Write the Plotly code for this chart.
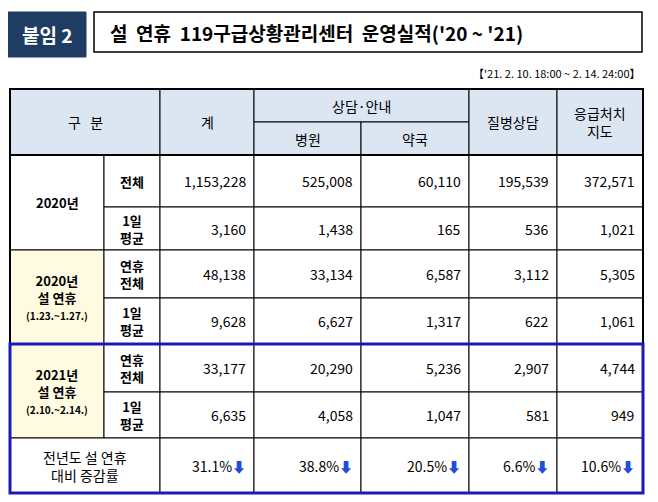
import plotly.graph_objects as go

# data
col_heads = ["계", "병원", "약국", "질병상담", "응급처치<br>지도"]
groups = ["2020년", "2020년<br>설 연휴<br><span style='font-size:10px'>(1.23.~1.27.)</span>",
          "2021년<br>설 연휴<br><span style='font-size:10px'>(2.10.~2.14.)</span>"]
sub_rows = ["전체", "1일<br>평균", "연휴<br>전체", "1일<br>평균", "연휴<br>전체", "1일<br>평균"]
values = [
    [1153228, 525008, 60110, 195539, 372571],
    [3160, 1438, 165, 536, 1021],
    [48138, 33134, 6587, 3112, 5305],
    [9628, 6627, 1317, 622, 1061],
    [33177, 20290, 5236, 2907, 4744],
    [6635, 4058, 1047, 581, 949],
]
change_pct = [31.1, 38.8, 20.5, 6.6, 10.6]

FONT = "Noto Sans CJK KR"
xs = [10, 104, 160, 254, 361, 469, 557, 643]   # column edges
ys = [89, 155, 207, 250, 298, 344, 392, 438, 493]  # row edges
hdr_mid = 122

fig = go.Figure()
shapes, ann = [], []

def rect(x0, y0, x1, y1, fill="white", lc="black", lw=1):
    shapes.append(dict(type="rect", x0=x0, x1=x1, y0=y0, y1=y1, fillcolor=fill,
                       line=dict(color=lc, width=lw), layer="below"))

def text(x, y, s, size=13, color="black", xanchor="center", bold=False):
    if bold:
        s = "<b>" + s + "</b>"
    ann.append(dict(x=x, y=y, text=s, showarrow=False, xanchor=xanchor, yanchor="middle",
                    font=dict(family=FONT, size=size, color=color)))

# title
rect(8, 12, 86, 57, fill="#1f3d63", lc="#1f3d63")
text(47, 34, "붙임 2", size=19, color="white", bold=True)
rect(94, 12, 642, 52, lw=1.5)
text(108, 32, "설  연휴  119구급상황관리센터  운영실적('20 ~ '21)", size=19, xanchor="left", bold=True)
text(643, 73, "【'21. 2. 10. 18:00 ~ 2. 14. 24:00】", size=11, xanchor="right")

# header
hdr = "#dce6f2"
rect(xs[0], ys[0], xs[2], ys[1], fill=hdr)
text((xs[0] + xs[2]) / 2, (ys[0] + ys[1]) / 2, "구   분", size=14)
rect(xs[2], ys[0], xs[3], ys[1], fill=hdr)
text((xs[2] + xs[3]) / 2, (ys[0] + ys[1]) / 2, col_heads[0], size=14)
rect(xs[3], ys[0], xs[5], hdr_mid, fill=hdr)
text((xs[3] + xs[5]) / 2, (ys[0] + hdr_mid) / 2, "상담·안내", size=14)
for i in (1, 2):
    rect(xs[2 + i], hdr_mid, xs[3 + i], ys[1], fill=hdr)
    text((xs[2 + i] + xs[3 + i]) / 2, (hdr_mid + ys[1]) / 2, col_heads[i], size=14)
for i in (3, 4):
    rect(xs[2 + i], ys[0], xs[3 + i], ys[1], fill=hdr)
    text((xs[2 + i] + xs[3 + i]) / 2, (ys[0] + ys[1]) / 2, col_heads[i], size=14)

# body
for g in range(3):
    y0, y1 = ys[1 + 2 * g], ys[3 + 2 * g]
    rect(xs[0], y0, xs[1], y1, fill="white" if g == 0 else "#fffbe0")
    text((xs[0] + xs[1]) / 2, (y0 + y1) / 2, groups[g], size=13, bold=True)
for r in range(6):
    y0, y1 = ys[1 + r], ys[2 + r]
    rect(xs[1], y0, xs[2], y1)
    text((xs[1] + xs[2]) / 2, (y0 + y1) / 2, sub_rows[r], size=13, bold=True)
    for c in range(5):
        rect(xs[2 + c], y0, xs[3 + c], y1)
        text(xs[3 + c] - 6, (y0 + y1) / 2, f"{values[r][c]:,}", size=14, xanchor="right")

# change row
y0, y1 = ys[7], ys[8]
rect(xs[0], y0, xs[2], y1)
text((xs[0] + xs[2]) / 2, (y0 + y1) / 2, "전년도 설 연휴<br>대비 증감률", size=14)
for c in range(5):
    rect(xs[2 + c], y0, xs[3 + c], y1)
    text(xs[3 + c] - 6, (y0 + y1) / 2,
         f"{change_pct[c]}%<span style='color:#1f4fd8'><b>⬇</b></span>", size=14, xanchor="right")

# outer borders
shapes.append(dict(type="rect", x0=xs[0], x1=xs[-1], y0=ys[0], y1=ys[5],
                   line=dict(color="black", width=2)))
shapes.append(dict(type="line", x0=xs[0], x1=xs[-1], y0=ys[1], y1=ys[1],
                   line=dict(color="black", width=2)))
shapes.append(dict(type="rect", x0=xs[0], x1=xs[-1], y0=ys[5], y1=ys[8],
                   line=dict(color="#1a1ab8", width=3)))

# page is drawn with an 8px body margin, so shift the view by 8
fig.update_layout(
    width=658, height=502, margin=dict(l=0, r=0, t=0, b=0),
    plot_bgcolor="white", paper_bgcolor="white",
    shapes=shapes, annotations=ann, showlegend=False,
    xaxis=dict(range=[8, 666], visible=False, fixedrange=True),
    yaxis=dict(range=[510, 8], visible=False, fixedrange=True),
)
fig.write_html("out.html")
